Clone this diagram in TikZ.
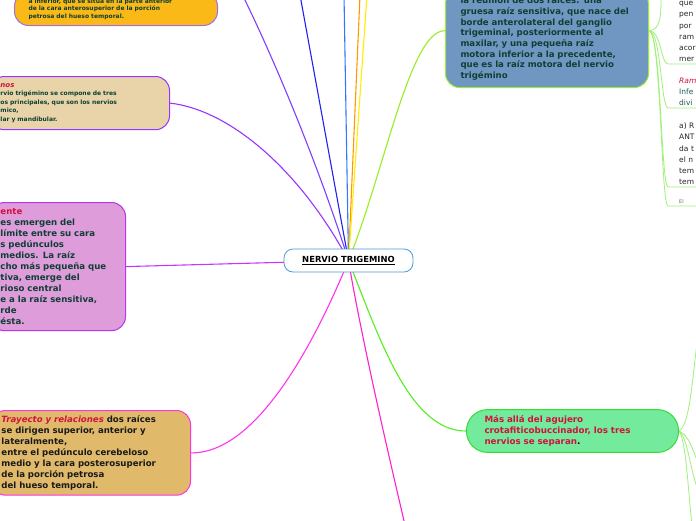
\documentclass[tikz,border=0pt]{standalone}
\usepackage{fontspec}
\setmainfont{DejaVu Sans}
\usetikzlibrary{backgrounds}

\definecolor{txtgreen}{HTML}{0E3F33}
\definecolor{titlered}{HTML}{D0123E}
\definecolor{leafteal}{HTML}{1B5E50}
\definecolor{orangefill}{HTML}{FBB917}
\definecolor{orangeedge}{HTML}{A070E0}
\definecolor{beigefill}{HTML}{E8D4A8}
\definecolor{beigeedge}{HTML}{9933FF}
\definecolor{plumfill}{HTML}{DE9CDB}
\definecolor{plumedge}{HTML}{BB33EE}
\definecolor{sandfill}{HTML}{E0BA6A}
\definecolor{sandedge}{HTML}{FF33DD}
\definecolor{bluefill}{HTML}{7097C1}
\definecolor{blueedge}{HTML}{99EE33}
\definecolor{greenfill}{HTML}{74EA9C}
\definecolor{greenedge}{HTML}{33DD33}
\definecolor{rootedge}{HTML}{4A9AD8}
\definecolor{lnpurple}{HTML}{7F3FFF}
\definecolor{lndarkblue}{HTML}{2222EE}
\definecolor{lnblue}{HTML}{3377FF}
\definecolor{lnorange}{HTML}{FF9900}
\definecolor{lnyellow}{HTML}{FFEE00}
\definecolor{lnlime}{HTML}{99EE22}
\definecolor{lnviolet}{HTML}{9933FF}
\definecolor{lnmagenta}{HTML}{CC33FF}
\definecolor{lnpink}{HTML}{FF33EE}
\definecolor{lnhotpink}{HTML}{FF22CC}
\definecolor{lngreen}{HTML}{55EE22}
\definecolor{twiggreen}{HTML}{A0F07A}

\begin{document}
\begin{tikzpicture}[x=1pt, y=-1pt,
    mbox/.style={rectangle, rounded corners=14pt, line width=1pt, align=left, inner xsep=10pt,
                 font=\bfseries\fontsize{8.6}{11}\selectfont, text=txtgreen},
    leaf/.style={rectangle, align=left, inner xsep=11pt, inner ysep=2pt, text width=30pt,
                 font=\fontsize{7.5}{11.2}\selectfont},
    link/.style={line width=1.1pt},
    twig/.style={line width=0.8pt, draw=twiggreen}
]
\useasboundingbox (0,0) rectangle (696,520);
\clip (0,0) rectangle (696,520);

% ramas a la izquierda
\node[mbox, fill=orangefill, draw=orangeedge, anchor=south east, text width=175pt, inner xsep=14pt,
      inner ysep=6pt, font=\bfseries\fontsize{6}{7.6}\selectfont] (ganglio) at (218,26)
      {a inferior, que se sitúa en la parte anterior\\de la cara anterosuperior de la porción\\petrosa del hueso temporal.};
\node[mbox, fill=beigefill, draw=beigeedge, anchor=north east, text width=159pt, inner ysep=7pt,
      font=\bfseries\fontsize{6}{8.5}\selectfont] (ramos) at (170,76)
      {\textcolor{titlered}{\itshape\fontsize{7}{8.5}\selectfont nos}\\rvio trigémino se compone de tres\\os principales, que son los nervios\\mico,\\lar y mandibular.};
\node[mbox, fill=plumfill, draw=plumedge, anchor=north east, text width=115pt, inner ysep=6pt] (origen) at (126,202)
      {\textcolor{titlered}{ente}\\es emergen del\\ límite entre su cara\\s pedúnculos\\medios. La raíz\\cho más pequeña que\\tiva, emerge del\\rioso central\\e a la raíz sensitiva,\\rde\\ésta.};
\node[mbox, fill=sandfill, draw=sandedge, anchor=north east, text width=179pt, inner ysep=5pt, text=black!90] (trayecto) at (191,410)
      {\textcolor{titlered}{\itshape Trayecto y relaciones} dos raíces\\se dirigen superior, anterior y\\lateralmente,\\entre el pedúnculo cerebeloso\\medio y la cara posterosuperior\\de la porción petrosa\\del hueso temporal.};

% ramas a la derecha
\node[mbox, fill=bluefill, draw=blueedge, anchor=south west, text width=173pt, inner xsep=15pt,
      inner ysep=7pt, font=\bfseries\fontsize{8.6}{10.7}\selectfont] (raices) at (445,88)
      {la reunión de dos raíces: una\\gruesa raíz sensitiva, que nace del\\borde anterolateral del ganglio\\trigeminal, posteriormente al\\maxilar, y una pequeña raíz\\motora inferior a la precedente,\\que es la raíz motora del nervio\\trigémino};
\node[mbox, rounded corners=21pt, fill=greenfill, draw=greenedge, anchor=west, text width=176pt, inner xsep=18pt,
      inner ysep=6pt, text=titlered, font=\bfseries\fontsize{8.7}{11}\selectfont] (division) at (466,431)
      {Más allá del agujero\\crotafiticobuccinador, los tres\\nervios se separan\textcolor{black}{.}};

\node[leaf, anchor=south west, text=black!85] (r1) at (668,64) {que\\pen\\por\\ram\\acor\\mer};
\node[leaf, anchor=south west, text=leafteal] (r2) at (668,108) {\textcolor{titlered}{\itshape Ram}\\Infe\\divi};
\node[leaf, anchor=south west, text=black!85] (r3) at (668,187) {a) R\\ANT\\da t\\el n\\tem\\tem};
\node[leaf, anchor=south west, text=black!60, font=\fontsize{5}{6}\selectfont] (r4) at (668,206) {El};

\node[rectangle, rounded corners=9pt, draw=rootedge, fill=white, line width=0.8pt, minimum width=129pt,
      minimum height=23pt, font=\bfseries\fontsize{8.4}{9}\selectfont] (root) at (348.5,260.5) {\underline{NERVIO TRIGEMINO}};

\coordinate (upleft) at (240,-10);
\coordinate (up1) at (300,-5);
\coordinate (up2) at (344,-5);
\coordinate (up3) at (360,-5);
\coordinate (up4) at (367,-5);
\coordinate (down) at (405,525);
\coordinate (rup) at (661,-5);
\coordinate (gup) at (698,335);
\coordinate (gdown1) at (698,462);
\coordinate (gdown2) at (698,490);
\coordinate (gdown3) at (692,525);

\begin{scope}[on background layer]
\fill[white] (0,0) rectangle (696,520);
\clip (0,0) rectangle (696,520);
\draw[link, lnpurple] (root.center) .. controls (320,170) and (275,60) .. (upleft);
\draw[link, lndarkblue] (root.center) -- (up1);
\draw[link, lnblue] (root.center) -- (up2);
\draw[link, lnorange] (root.center) -- (up3);
\draw[link, lnyellow] (root.center) -- (up4);
\draw[link, lnlime] (root.center) .. controls (385,170) and (410,30) .. ([yshift=8pt]raices.west);
\draw[link, lnviolet] (ramos.east) .. controls (230,110) and (300,170) .. (root.center);
\draw[link, lnmagenta] (origen.east) -- (root.center);
\draw[link, lnpink] (trayecto.east) .. controls (260,454) and (320,330) .. (root.center);
\draw[link, lnhotpink] (root.center) .. controls (360,330) and (385,440) .. (down);
\draw[link, lngreen] (root.center) .. controls (380,340) and (410,431) .. (division.west);
% hojas
\draw[twig] ([yshift=8pt]raices.east) .. controls (661,30) and (661,15) .. (rup);
\draw[twig] ([yshift=8pt]raices.east) .. controls (661,30) and (661,64) .. (r1.south west) -- (r1.south east);
\draw[twig] ([yshift=8pt]raices.east) .. controls (661,30) and (661,108) .. (r2.south west) -- (r2.south east);
\draw[twig] ([yshift=8pt]raices.east) .. controls (661,30) and (661,187) .. (r3.south west) -- (r3.south east);
\draw[twig] ([yshift=8pt]raices.east) .. controls (661,30) and (661,206) .. (r4.south west) -- (r4.south east);
\draw[twig] (division.east) .. controls (690,425) and (692,380) .. (gup);
\draw[twig] (division.east) .. controls (690,436) and (692,450) .. (gdown1);
\draw[twig] (division.east) .. controls (688,438) and (690,470) .. (gdown2);
\draw[twig] (division.east) .. controls (686,440) and (688,490) .. (gdown3);
\end{scope}
\end{tikzpicture}
\end{document}
